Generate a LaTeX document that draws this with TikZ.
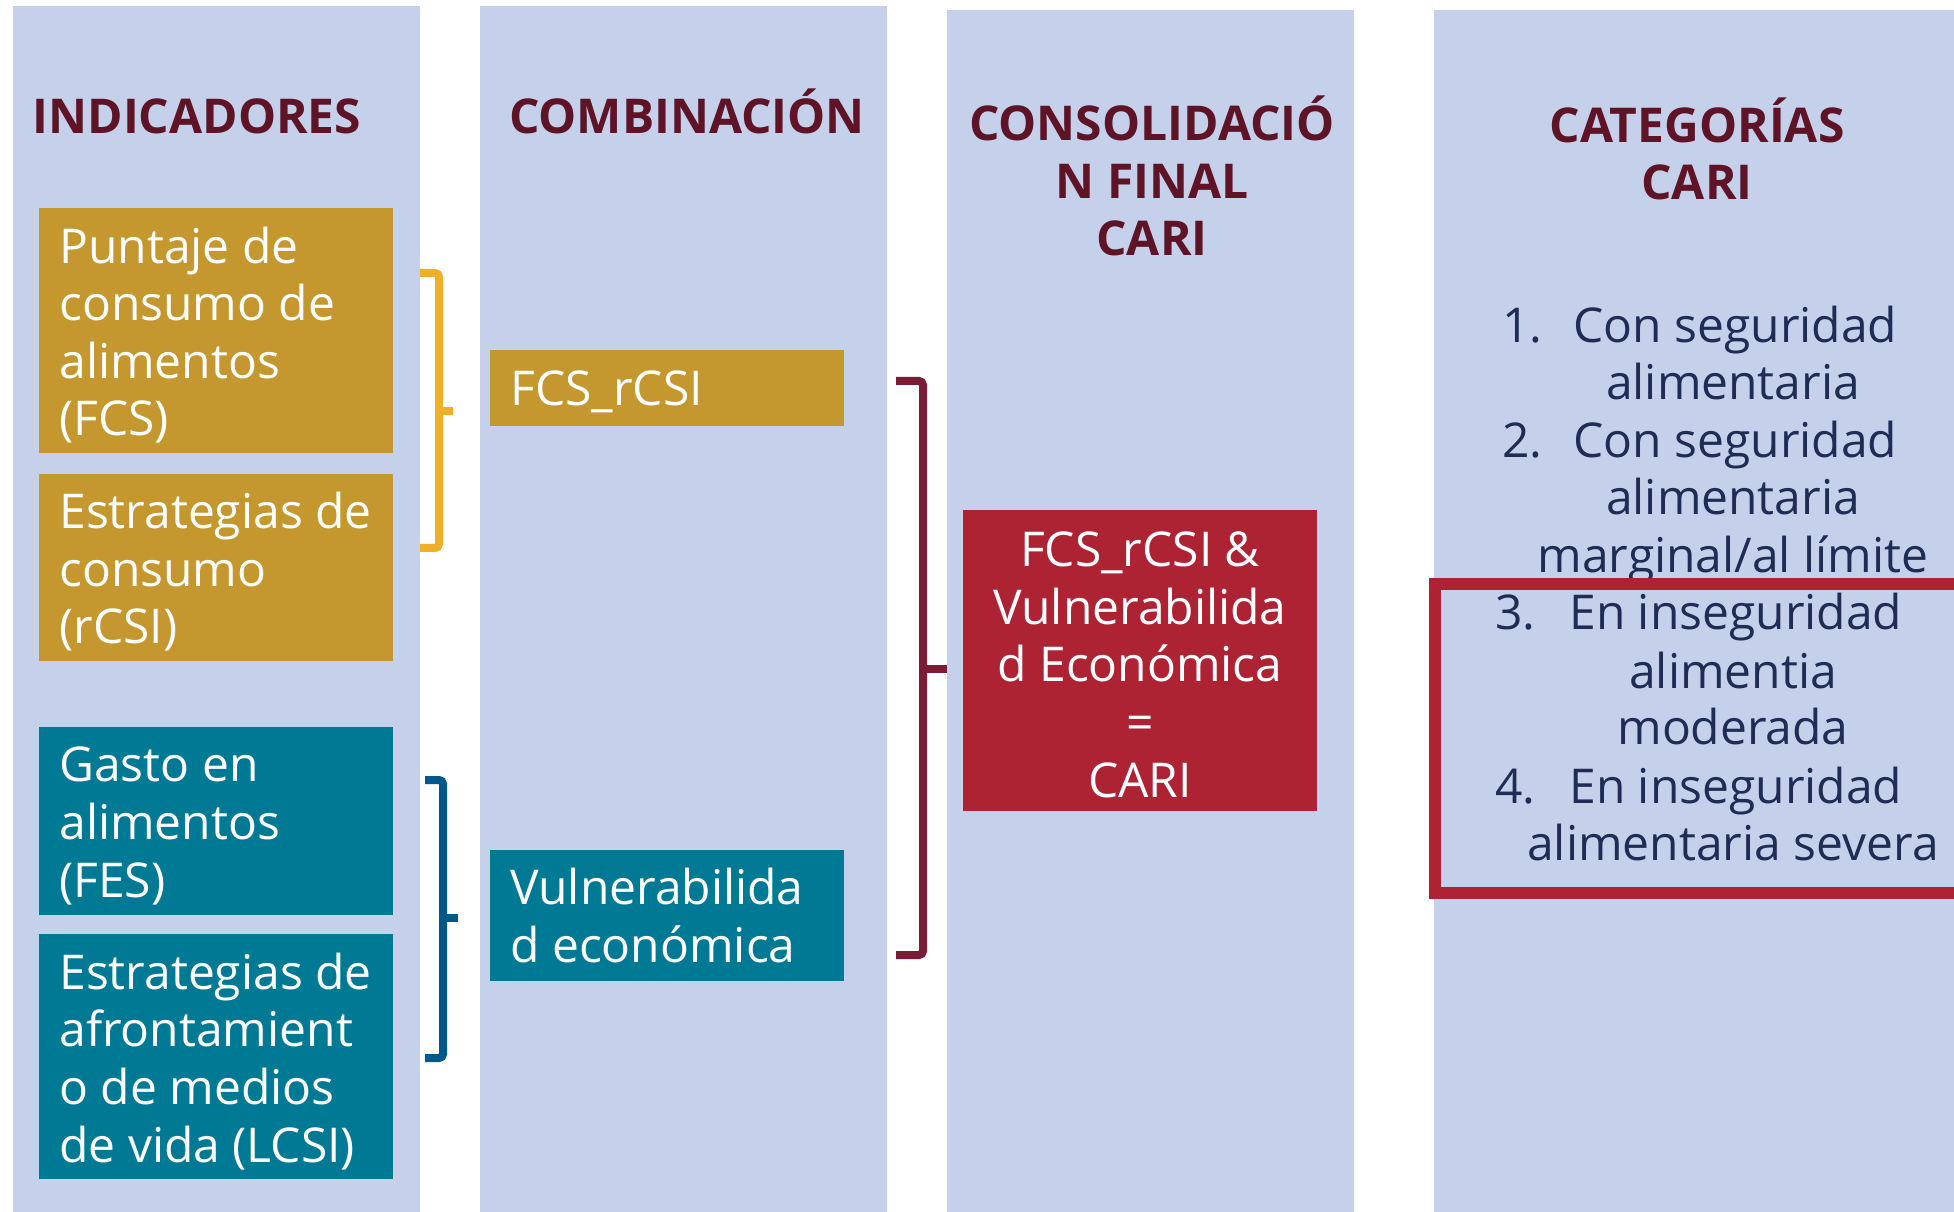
\documentclass[tikz,border=0pt]{standalone}
\usepackage{fontspec}
\setmainfont{Open Sans}
\definecolor{colbg}{HTML}{C5D1EB}
\definecolor{gold}{HTML}{C4972F}
\definecolor{petrol}{HTML}{007A94}
\definecolor{carired}{HTML}{AE2334}
\definecolor{titlered}{HTML}{5E1426}
\definecolor{navytxt}{HTML}{1F2D55}
\definecolor{goldbr}{HTML}{F0AF28}
\definecolor{bluebr}{HTML}{00588A}
\definecolor{redbr}{HTML}{7B1C37}

\begin{document}
\begin{tikzpicture}[x=0.02cm, y=-0.02cm,
  col/.style={fill=colbg, inner sep=0, outer sep=0, minimum width=8.14cm, anchor=north west},
  box/.style={inner sep=0, outer sep=0, minimum width=7.08cm, anchor=north west},
  ttl/.style={text=titlered, font=\bfseries\fontsize{27.3}{33}\selectfont, align=center, anchor=base, inner sep=0},
  wtxt/.style={text=white, font=\fontsize{27.3}{32.8}\selectfont, align=left, anchor=base west, inner sep=0},
  ntxt/.style={text=navytxt, font=\fontsize{27.3}{32.8}\selectfont, inner sep=0},
  brk/.style={line width=0.16cm, rounded corners=0.08cm}]

\useasboundingbox (0,0) rectangle (1954,1212);

% columns
\node[col, minimum height=24.12cm] (ind) at (13,6) {};
\node[col, minimum height=24.12cm] (comb) at (480,6) {};
\node[col, minimum height=24.04cm] (cons) at (947,10) {};
\node[col, minimum height=24.04cm, minimum width=10.6cm] (cat) at (1434,10) {};

% titles (base = last line)
\node[ttl] (ind-t) at (197,134) {INDICADORES};
\node[ttl] (comb-t) at (687,134) {COMBINACIÓN};
\node[ttl] (cons-t) at (1152,256) {CONSOLIDACIÓ\\N FINAL\\CARI};
\node[ttl] (cat-t) at (1697,200) {CATEGORÍAS\\CARI};

% indicadores
\node[box, fill=gold, minimum height=4.90cm] (fcs) at (39,208) {};
\node[box, fill=gold, minimum height=3.74cm] (rcsi) at (39,474) {};
\node[box, fill=petrol, minimum height=3.76cm] (fes) at (39,727) {};
\node[box, fill=petrol, minimum height=4.90cm] (lcsi) at (39,934) {};
\node[wtxt] (fcs-t) at (59,436) {Puntaje de\\consumo de\\alimentos\\(FCS)};
\node[wtxt] (rcsi-t) at (59,644) {Estrategias de\\consumo\\(rCSI)};
\node[wtxt] (fes-t) at (59,897) {Gasto en\\alimentos\\(FES)};
\node[wtxt] (lcsi-t) at (59,1162) {Estrategias de\\afrontamient\\o de medios\\de vida (LCSI)};

% combinacion
\node[box, fill=gold, minimum height=1.52cm] (fr) at (490,350) {};
\node[box, fill=petrol, minimum height=2.62cm] (ve) at (490,850) {};
\node[wtxt] (fr-t) at (510,406) {FCS\_rCSI};
\node[wtxt] (ve-t) at (510,962) {Vulnerabilida\\d económica};

% consolidacion
\node[box, fill=carired, minimum height=6.02cm] (cari) at (963,510) {};
\node[wtxt, align=center, anchor=base] (cari-t) at (1140,797) {FCS\_rCSI \&\\Vulnerabilida\\d Económica\\=\\CARI};

% brackets
\draw[brk, goldbr] (420,273) -| (439,548) -- (420,548);
\draw[brk, goldbr] (439,411) -- (453,411);
\draw[brk, bluebr] (425,780) -| (443,1058) -- (425,1058);
\draw[brk, bluebr] (443,918) -- (458,918);
\draw[brk, redbr] (896,381) -| (923,955) -- (896,955);
\draw[brk, redbr] (923,669) -- (947,669);

% categorias
\foreach \n/\x/\y/\t in {n1/1502/343/1., n2/1502/458/2., n3/1495/630/3., n4/1495/803/4.}
  \node[ntxt, anchor=base west] (\n) at (\x,\y) {\t};
\foreach \n/\x/\y/\t in {a1/1573/343/Con seguridad, a2/1573/458/Con seguridad,
    a3/1569/630/En inseguridad, a4/1569/803/En inseguridad}
  \node[ntxt, anchor=base west] (\n) at (\x,\y) {\t};
\foreach \n/\y/\t in {b1/400/alimentaria, b2/515/alimentaria, c2/573/{marginal/al límite},
    b3/688/alimentia, c3/745/moderada, b4/860/alimentaria severa}
  \node[ntxt, anchor=base] (\n) at (1733,\y) {\t};

\node[draw=carired, line width=0.24cm, inner sep=0, outer sep=0, minimum width=10.6cm, minimum height=6.18cm, anchor=north west] (sel) at (1435,584) {};

\end{tikzpicture}
\end{document}
